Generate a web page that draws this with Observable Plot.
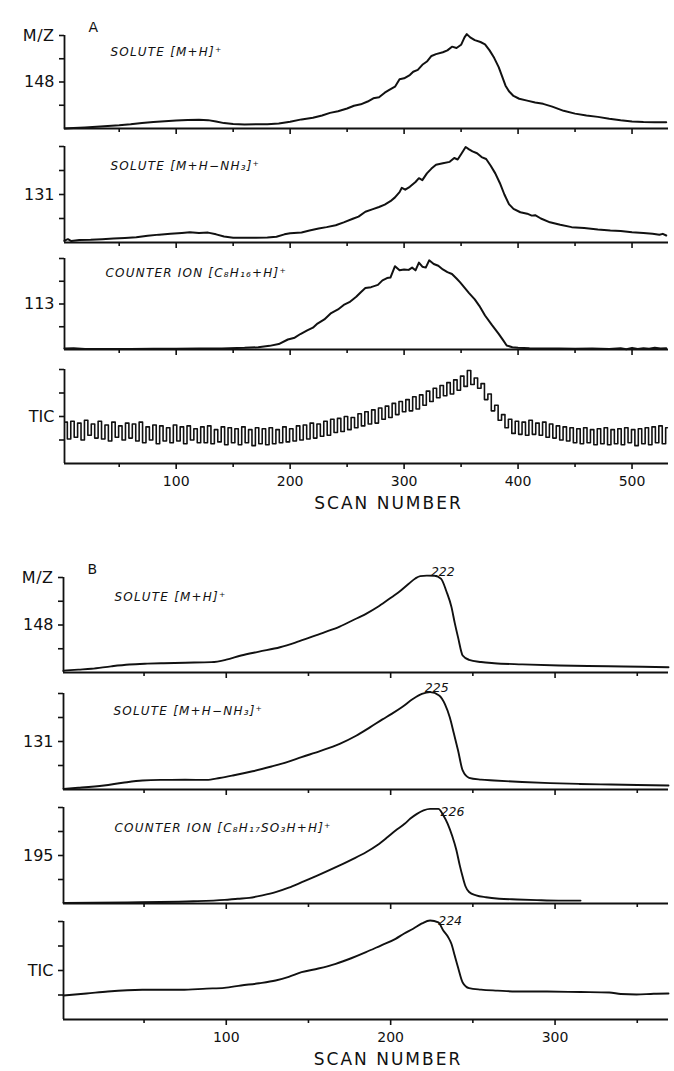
<!DOCTYPE html>
<html><head><meta charset="utf-8">
<script src="https://cdn.jsdelivr.net/npm/d3@7"></script>
<script src="https://cdn.jsdelivr.net/npm/@observablehq/plot@0.6"></script>
<style>
body{margin:0;background:#fff;}
#root{position:relative;width:674px;height:1071px;overflow:hidden;background:#fff;}
</style></head><body><div id="root"></div>
<script>
// ---------- Panel A data (scan number vs relative intensity, 0 = baseline, 100 = top tick) ----------
const a1Scan = [2,10,20,30,40,50,60,70,80,90,100,110,120,128,135,142,150,160,170,180,190,200,210,220,228,235,242,250,256,262,268,273,278,283,287,292,296,300,305,308,312,316,320,324,328,334,338,342,346,350,353,355,358,362,367,371,375,379,383,386,389,392,396,401,408,415,422,430,440,450,460,470,480,490,500,510,520,530];
const a1Val  = [0,0.5,1.2,2,2.8,3.5,4.5,5.8,7,7.8,8.6,9.2,9.4,9,7.5,5.8,4.8,4.2,4.5,4.6,5.5,7.2,9.8,11.5,14,16.8,18.5,21.5,24.5,26,29,32.5,33.5,38.5,41.5,45,53,54,57.5,61,63,68.5,72,78,80,82,84,88,86.5,90,98,101.5,98,95,93,90.5,84,76,66,56,46,40,35,32,30,28,26.5,23.5,19,16,14,12.5,10.5,8.8,7.5,7,6.8,6.8];

const a2Scan = [2,5,8,15,25,35,45,55,65,75,85,95,105,112,120,128,135,142,150,160,170,180,188,195,200,210,217,225,232,240,247,255,260,266,272,278,283,288,292,296,298,301,305,310,313,316,320,324,328,334,340,344,347,350,354,357,360,364,368,372,376,380,384,388,392,396,402,408,412,415,420,428,437,447,458,470,481,490,500,510,518,524,527,530];
const a2Val  = [2,3.5,1.5,2.5,2.8,3.5,4.2,4.8,5.5,7,8.2,9,10,10.8,10,10.3,8.5,6.2,5,4.9,4.9,5.3,6,8.5,9.7,10.5,12.5,14.5,16,18,21,24.7,27,32,34.5,37,39.5,43,47,52.5,57,55,58,63,67,65,72,77,81,82.5,84,88,86.5,92,99.5,97,95,93,89,87,80,72,62,50,40,35,31.5,30,28,28.5,25,21,18.5,16,15,13.5,12.5,12,10.8,10,9,8,9,7.3];

const a3Scan = [2,10,20,40,60,80,100,120,140,160,172,182,190,198,204,209,215,220,224,230,236,242,247,252,258,262,266,271,277,281,285,288,292,296,300,304,307,310,313,316,319,322,326,330,334,338,342,346,349,353,357,362,366,371,377,383,387,390,395,400,410,425,436,450,465,480,490,495,500,505,510,515,520,525,530];
const a3Val  = [1,1.5,0.5,0.5,0.5,0.8,0.8,1,1.2,1.8,2.5,4,6,11,13,17,21,24,28.5,33,40,44,49,52,58,63,67.5,68.5,71,76,78.5,79,91.5,87,88,87.5,90,87,95.5,91,90,98,94,92,88,85,83,78,74,68,62,55,48,37.4,27,17.2,10,4.4,2.5,2,1.5,1.2,1,0.8,1,0.5,1.5,0.3,1.8,0.5,1.5,0.8,2,1,1.5];

// Total ion current, panel A: one reading every 3 scans starting at scan 3
const ticAStart = 3, ticAStep = 3;
const ticAVal = [
 44,26,45,28,43,25,46,30,42,27,
 45,26,41,24,44,28,40,25,43,27,
 42,24,44,22,39,25,41,21,40,24,
 38,22,41,24,39,21,40,25,37,22,
 39,22,40,21,36,23,39,20,38,22,
 37,20,39,22,36,19,38,21,37,20,
 38,21,36,22,39,23,37,24,40,25,
 41,26,43,27,42,29,45,30,47,33,
 48,34,50,36,49,38,53,40,55,42,
 57,43,59,47,61,49,64,52,66,55,
 68,56,71,58,73,62,77,66,80,70,
 83,72,86,74,89,78,93,82,99,84,
 91,80,85,68,74,56,62,46,52,38,
 47,32,45,31,44,30,46,31,43,30,
 44,28,42,27,40,25,39,24,38,22,
 37,21,38,22,36,20,37,21,38,20,
 36,21,37,20,38,22,36,19,37,21,
 38,20,39,22,40,21,38];

// ---------- Panel B data ----------
const b1Scan = [1,10,18,30,41,52,62,75,91,100,109,120,132.7,142,151,160,169,177,185,193,200.6,206,211,215,218,222,226.7,230.7,234,237,239,241,243.8,247.7,255,263,280,302.5,320,341.7,369];
const b1Val  = [2,3,3.9,6.5,8.4,9.3,9.8,10.3,10.9,13.5,17.9,22,26.6,31.5,37,42.5,48.4,55,61.8,70,79.3,86,93.4,99,101.5,102,101.8,98.6,85,68.8,52,37,17.9,13.3,11,9.8,8.6,7.4,6.8,6.3,5.6];

const b2Scan = [1,10,25.6,37,49,60,75,88,96,104,116,127.5,137,145.8,157,169,179,187.6,195,200.6,207,213.7,219,224,229.5,233,236,238.5,241,243.8,247.7,255,263,280,297,315,334,350,369];
const b2Val  = [0.7,1.8,4.2,7,9.4,10,10.1,10,12,14.6,19,24,28.5,33.7,40,47.6,56,65,73,78.8,86,94.5,99.5,101.4,98,89,75,58,40.6,19.8,12.2,10.3,9.4,7.8,6.6,5.8,5.2,4.7,4.2];

const b3Scan = [1,20,40,60,80,99,107,114,122,130,138,146,156,166.7,176,185,192,198,203,208.5,212,216,220,224,229,232,234.7,237.5,240,242,243.8,245.5,247.7,252,258,266,277,289,302,315.5];
const b3Val  = [0.5,0.8,1.2,1.5,2.3,3.8,5,5.9,8.5,11.8,16.5,22.2,29.5,37.8,45.5,53.4,61,69,76,83,88.5,93.4,97,98.6,98.6,92,83,70,55.5,40,27.8,18,12,8.5,6.5,5,4.2,3.5,3,3];

const b4Scan = [1,15,28,49,72.6,88,98.8,109,120,130,138,145.8,156,166.6,176,185,194,203,208,213.7,219,224,229,232,235,237,239,241,243.8,247.7,255,265,276,295,315.5,333,340,349.5,360,369];
const b4Val  = [24.5,26.5,28.6,30.3,30.3,31.5,32.3,34.7,37,39.8,43.5,48.3,52,56.8,62.5,68.7,75.5,82.3,87.5,92.6,98,101,99,90.8,84,77,65,53,37.8,32,30.5,29.5,28.6,28.5,28,27.5,26,25.5,26.3,26.5];

// ---------- Texts and ticks ----------
const panelLetters = ["A", "B"];
const seriesLabelsA = ["SOLUTE [M+H]⁺", "SOLUTE [M+H−NH₃]⁺", "COUNTER ION [C₈H₁₆+H]⁺"];
const seriesLabelsB = ["SOLUTE [M+H]⁺", "SOLUTE [M+H−NH₃]⁺", "COUNTER ION [C₈H₁₇SO₃H+H]⁺"];
const mzLabelsA = ["148", "131", "113", "TIC"];
const mzLabelsB = ["148", "131", "195", "TIC"];
const peakScansB = [222, 225, 226, 224];
const xMajorA = [100, 200, 300, 400, 500];
const xMinorA = [50, 150, 250, 350, 450];
const xMajorB = [100, 200, 300];
const xMinorB = [50, 150, 250, 350];
const xTitle = "SCAN NUMBER";
const yTopLabel = "M/Z";

// ---------- Layout (pixels) ----------
const root = document.getElementById("root");
const INK = "#111";

function sub(o) {
  const mt = 24, mb = o.xLabels ? 62 : 10;
  const h = o.bottom - o.top;
  const data = o.scans.map((s, i) => ({s, v: o.vals[i]}));
  const yLab = {50: o.mz};
  if (o.letter) yLab[100] = yTopLabel;
  const marks = [
    Plot.ruleX([o.domain[0]], {stroke: INK, strokeWidth: 1.8}),
    Plot.ruleY([0], {stroke: INK, strokeWidth: 1.8}),
    Plot.axisY({ticks: [25, 50, 75, 100], tickSize: 5, tickPadding: 5, tickFormat: d => yLab[d] ?? "", fontSize: 16, label: null, stroke: INK, strokeWidth: 1.6}),
    Plot.axisX({ticks: o.major, tickSize: 6, tickPadding: 7, tickFormat: o.xLabels ? (d => String(d)) : (() => ""), fontSize: 14, label: null, stroke: INK, strokeWidth: 1.6}),
    Plot.axisX({ticks: o.minor, tickSize: 4, tickFormat: () => "", label: null, stroke: INK, strokeWidth: 1.6}),
    Plot.line(data, {x: "s", y: "v", curve: o.curve, stroke: INK, strokeWidth: o.sw})
  ];
  if (o.label) marks.push(Plot.text([o.label], {text: d => d, frameAnchor: "top-left", dx: o.ldx, dy: o.ldy, textAnchor: "start", fontStyle: "italic", fontSize: 12, fill: INK}));
  if (o.letter) marks.push(Plot.text([o.letter], {text: d => d, frameAnchor: "top-left", dx: 24, dy: -13, fontSize: 14, fill: INK}));
  if (o.peak != null) marks.push(Plot.text([o.peak], {x: d => d, text: d => String(d), frameAnchor: "top", dx: o.pdx, dy: o.pdy, fontStyle: "italic", fontSize: 12.5, fill: INK}));
  if (o.xLabels) marks.push(Plot.text([xTitle], {text: d => d, frameAnchor: "bottom", dx: 22, dy: 45, fontSize: 17, fill: INK}));
  const svg = Plot.plot({
    width: 674, height: mt + h + mb,
    marginTop: mt, marginBottom: mb, marginLeft: o.ml, marginRight: 6,
    x: {domain: o.domain}, y: {domain: [0, 100]},
    style: {background: "transparent", overflow: "visible", fontFamily: "DejaVu Sans", color: INK},
    marks
  });
  svg.style.position = "absolute";
  svg.style.left = "0px";
  svg.style.top = (o.top - mt) + "px";
  root.appendChild(svg);
  svg.querySelectorAll("text").forEach(t => {
    const s = t.textContent;
    if (s === xTitle) t.setAttribute("letter-spacing", "2");
    else if (seriesLabelsA.includes(s) || seriesLabelsB.includes(s)) t.setAttribute("letter-spacing", "1.2");
    else if (s === yTopLabel) t.setAttribute("letter-spacing", "0.5");
  });
}

const domA = [2, 532], domB = [1, 369];
const A = {domain: domA, ml: 64, major: xMajorA, minor: xMinorA};
const B = {domain: domB, ml: 63, major: xMajorB, minor: xMinorB};

sub({...A, top: 35,  bottom: 128, scans: a1Scan, vals: a1Val, curve: "linear", sw: 2, mz: mzLabelsA[0], label: seriesLabelsA[0], ldx: 46, ldy: 12, letter: panelLetters[0]});
sub({...A, top: 146, bottom: 242, scans: a2Scan, vals: a2Val, curve: "linear", sw: 2, mz: mzLabelsA[1], label: seriesLabelsA[1], ldx: 46, ldy: 15});
sub({...A, top: 258, bottom: 349, scans: a3Scan, vals: a3Val, curve: "linear", sw: 2, mz: mzLabelsA[2], label: seriesLabelsA[2], ldx: 41, ldy: 10});
sub({...A, top: 369, bottom: 463, scans: ticAVal.map((_, i) => ticAStart + i * ticAStep), vals: ticAVal, curve: "step", sw: 1.6, mz: mzLabelsA[3], xLabels: true});

sub({...B, top: 577, bottom: 672, scans: b1Scan, vals: b1Val, curve: "monotone-x", sw: 1.9, mz: mzLabelsB[0], label: seriesLabelsB[0], ldx: 51, ldy: 15, letter: panelLetters[1], peak: peakScansB[0], pdx: 16, pdy: -10});
sub({...B, top: 693, bottom: 789, scans: b2Scan, vals: b2Val, curve: "monotone-x", sw: 1.9, mz: mzLabelsB[1], label: seriesLabelsB[1], ldx: 50, ldy: 13, peak: peakScansB[1], pdx: 5, pdy: -10});
sub({...B, top: 807, bottom: 903, scans: b3Scan, vals: b3Val, curve: "monotone-x", sw: 1.9, mz: mzLabelsB[2], label: seriesLabelsB[2], ldx: 51, ldy: 16, peak: peakScansB[2], pdx: 19, pdy: 0});
sub({...B, top: 921, bottom: 1019, scans: b4Scan, vals: b4Val, curve: "monotone-x", sw: 1.9, mz: mzLabelsB[3], xLabels: true, peak: peakScansB[3], pdx: 20, pdy: -5});
</script>
</body></html>
